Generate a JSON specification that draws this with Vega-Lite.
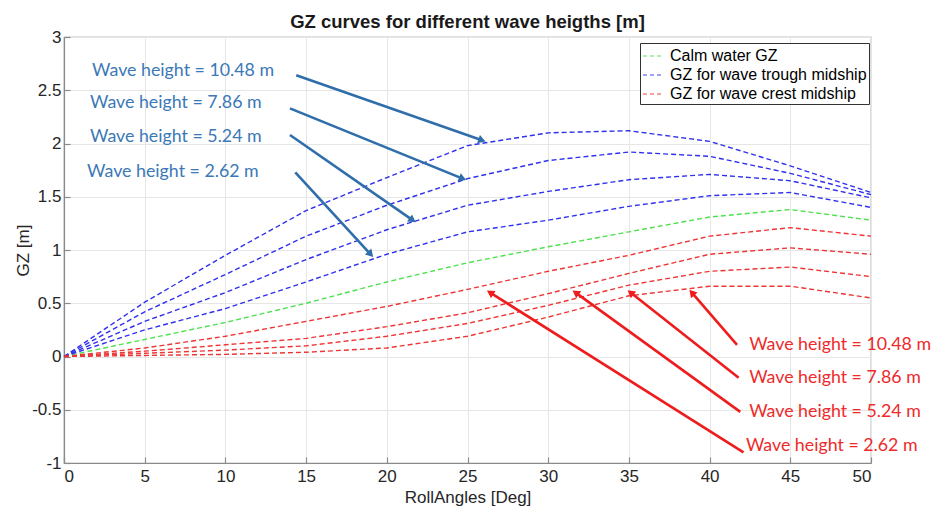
{
  "$schema": "https://vega.github.io/schema/vega-lite/v6.json",
  "width": 807,
  "height": 426,
  "autosize": {"type": "none"},
  "padding": {"left": 64, "top": 37, "right": 64, "bottom": 47},
  "background": "white",
  "title": {"text": "GZ curves for different wave heigths [m]", "font": "Liberation Sans", "fontSize": 18.5, "fontWeight": "bold", "color": "#1a1a1a", "anchor": "middle", "baseline": "bottom", "offset": 5, "dy": 27},
  "config": {
    "view": {"stroke": "#8a8a8a", "strokeWidth": 1.2},
    "axis": {
      "labelFont": "Liberation Sans", "labelFontSize": 17, "labelColor": "#262626",
      "titleFont": "Liberation Sans", "titleFontSize": 17, "titleColor": "#262626", "titleFontWeight": "normal",
      "grid": true, "gridColor": "#e6e6e6", "gridWidth": 1,
      "domainColor": "#8a8a8a", "domainWidth": 1.2, "ticks": true, "tickSize": -6, "tickColor": "#8a8a8a", "tickWidth": 1.2
    }
  },
  "datasets": {
    "curves": [
      {"angle": 0, "gz": 0, "type": "Calm water GZ", "wave": "calm"},
      {"angle": 5, "gz": 0.16, "type": "Calm water GZ", "wave": "calm"},
      {"angle": 10, "gz": 0.32, "type": "Calm water GZ", "wave": "calm"},
      {"angle": 15, "gz": 0.5, "type": "Calm water GZ", "wave": "calm"},
      {"angle": 20, "gz": 0.7, "type": "Calm water GZ", "wave": "calm"},
      {"angle": 25, "gz": 0.88, "type": "Calm water GZ", "wave": "calm"},
      {"angle": 30, "gz": 1.03, "type": "Calm water GZ", "wave": "calm"},
      {"angle": 35, "gz": 1.17, "type": "Calm water GZ", "wave": "calm"},
      {"angle": 40, "gz": 1.31, "type": "Calm water GZ", "wave": "calm"},
      {"angle": 45, "gz": 1.38, "type": "Calm water GZ", "wave": "calm"},
      {"angle": 50, "gz": 1.28, "type": "Calm water GZ", "wave": "calm"},

      {"angle": 0, "gz": 0, "type": "GZ for wave trough midship", "wave": "t2.62"},
      {"angle": 5, "gz": 0.25, "type": "GZ for wave trough midship", "wave": "t2.62"},
      {"angle": 10, "gz": 0.45, "type": "GZ for wave trough midship", "wave": "t2.62"},
      {"angle": 15, "gz": 0.7, "type": "GZ for wave trough midship", "wave": "t2.62"},
      {"angle": 20, "gz": 0.96, "type": "GZ for wave trough midship", "wave": "t2.62"},
      {"angle": 25, "gz": 1.17, "type": "GZ for wave trough midship", "wave": "t2.62"},
      {"angle": 30, "gz": 1.28, "type": "GZ for wave trough midship", "wave": "t2.62"},
      {"angle": 35, "gz": 1.41, "type": "GZ for wave trough midship", "wave": "t2.62"},
      {"angle": 40, "gz": 1.51, "type": "GZ for wave trough midship", "wave": "t2.62"},
      {"angle": 45, "gz": 1.54, "type": "GZ for wave trough midship", "wave": "t2.62"},
      {"angle": 50, "gz": 1.4, "type": "GZ for wave trough midship", "wave": "t2.62"},

      {"angle": 0, "gz": 0, "type": "GZ for wave trough midship", "wave": "t5.24"},
      {"angle": 5, "gz": 0.33, "type": "GZ for wave trough midship", "wave": "t5.24"},
      {"angle": 10, "gz": 0.6, "type": "GZ for wave trough midship", "wave": "t5.24"},
      {"angle": 15, "gz": 0.91, "type": "GZ for wave trough midship", "wave": "t5.24"},
      {"angle": 20, "gz": 1.19, "type": "GZ for wave trough midship", "wave": "t5.24"},
      {"angle": 25, "gz": 1.42, "type": "GZ for wave trough midship", "wave": "t5.24"},
      {"angle": 30, "gz": 1.55, "type": "GZ for wave trough midship", "wave": "t5.24"},
      {"angle": 35, "gz": 1.66, "type": "GZ for wave trough midship", "wave": "t5.24"},
      {"angle": 40, "gz": 1.71, "type": "GZ for wave trough midship", "wave": "t5.24"},
      {"angle": 45, "gz": 1.65, "type": "GZ for wave trough midship", "wave": "t5.24"},
      {"angle": 50, "gz": 1.49, "type": "GZ for wave trough midship", "wave": "t5.24"},

      {"angle": 0, "gz": 0, "type": "GZ for wave trough midship", "wave": "t7.86"},
      {"angle": 5, "gz": 0.42, "type": "GZ for wave trough midship", "wave": "t7.86"},
      {"angle": 10, "gz": 0.77, "type": "GZ for wave trough midship", "wave": "t7.86"},
      {"angle": 15, "gz": 1.13, "type": "GZ for wave trough midship", "wave": "t7.86"},
      {"angle": 20, "gz": 1.42, "type": "GZ for wave trough midship", "wave": "t7.86"},
      {"angle": 25, "gz": 1.67, "type": "GZ for wave trough midship", "wave": "t7.86"},
      {"angle": 30, "gz": 1.84, "type": "GZ for wave trough midship", "wave": "t7.86"},
      {"angle": 35, "gz": 1.92, "type": "GZ for wave trough midship", "wave": "t7.86"},
      {"angle": 40, "gz": 1.88, "type": "GZ for wave trough midship", "wave": "t7.86"},
      {"angle": 45, "gz": 1.72, "type": "GZ for wave trough midship", "wave": "t7.86"},
      {"angle": 50, "gz": 1.52, "type": "GZ for wave trough midship", "wave": "t7.86"},

      {"angle": 0, "gz": 0, "type": "GZ for wave trough midship", "wave": "t10.48"},
      {"angle": 5, "gz": 0.51, "type": "GZ for wave trough midship", "wave": "t10.48"},
      {"angle": 10, "gz": 0.95, "type": "GZ for wave trough midship", "wave": "t10.48"},
      {"angle": 15, "gz": 1.37, "type": "GZ for wave trough midship", "wave": "t10.48"},
      {"angle": 20, "gz": 1.68, "type": "GZ for wave trough midship", "wave": "t10.48"},
      {"angle": 25, "gz": 1.98, "type": "GZ for wave trough midship", "wave": "t10.48"},
      {"angle": 30, "gz": 2.1, "type": "GZ for wave trough midship", "wave": "t10.48"},
      {"angle": 35, "gz": 2.12, "type": "GZ for wave trough midship", "wave": "t10.48"},
      {"angle": 40, "gz": 2.02, "type": "GZ for wave trough midship", "wave": "t10.48"},
      {"angle": 45, "gz": 1.79, "type": "GZ for wave trough midship", "wave": "t10.48"},
      {"angle": 50, "gz": 1.54, "type": "GZ for wave trough midship", "wave": "t10.48"},

      {"angle": 0, "gz": 0, "type": "GZ for wave crest midship", "wave": "c2.62"},
      {"angle": 5, "gz": 0.08, "type": "GZ for wave crest midship", "wave": "c2.62"},
      {"angle": 10, "gz": 0.19, "type": "GZ for wave crest midship", "wave": "c2.62"},
      {"angle": 15, "gz": 0.33, "type": "GZ for wave crest midship", "wave": "c2.62"},
      {"angle": 20, "gz": 0.47, "type": "GZ for wave crest midship", "wave": "c2.62"},
      {"angle": 25, "gz": 0.63, "type": "GZ for wave crest midship", "wave": "c2.62"},
      {"angle": 30, "gz": 0.8, "type": "GZ for wave crest midship", "wave": "c2.62"},
      {"angle": 35, "gz": 0.95, "type": "GZ for wave crest midship", "wave": "c2.62"},
      {"angle": 40, "gz": 1.13, "type": "GZ for wave crest midship", "wave": "c2.62"},
      {"angle": 45, "gz": 1.21, "type": "GZ for wave crest midship", "wave": "c2.62"},
      {"angle": 50, "gz": 1.13, "type": "GZ for wave crest midship", "wave": "c2.62"},

      {"angle": 0, "gz": 0, "type": "GZ for wave crest midship", "wave": "c5.24"},
      {"angle": 5, "gz": 0.05, "type": "GZ for wave crest midship", "wave": "c5.24"},
      {"angle": 10, "gz": 0.11, "type": "GZ for wave crest midship", "wave": "c5.24"},
      {"angle": 15, "gz": 0.17, "type": "GZ for wave crest midship", "wave": "c5.24"},
      {"angle": 20, "gz": 0.28, "type": "GZ for wave crest midship", "wave": "c5.24"},
      {"angle": 25, "gz": 0.41, "type": "GZ for wave crest midship", "wave": "c5.24"},
      {"angle": 30, "gz": 0.59, "type": "GZ for wave crest midship", "wave": "c5.24"},
      {"angle": 35, "gz": 0.78, "type": "GZ for wave crest midship", "wave": "c5.24"},
      {"angle": 40, "gz": 0.96, "type": "GZ for wave crest midship", "wave": "c5.24"},
      {"angle": 45, "gz": 1.02, "type": "GZ for wave crest midship", "wave": "c5.24"},
      {"angle": 50, "gz": 0.96, "type": "GZ for wave crest midship", "wave": "c5.24"},

      {"angle": 0, "gz": 0, "type": "GZ for wave crest midship", "wave": "c7.86"},
      {"angle": 5, "gz": 0.03, "type": "GZ for wave crest midship", "wave": "c7.86"},
      {"angle": 10, "gz": 0.06, "type": "GZ for wave crest midship", "wave": "c7.86"},
      {"angle": 15, "gz": 0.1, "type": "GZ for wave crest midship", "wave": "c7.86"},
      {"angle": 20, "gz": 0.19, "type": "GZ for wave crest midship", "wave": "c7.86"},
      {"angle": 25, "gz": 0.31, "type": "GZ for wave crest midship", "wave": "c7.86"},
      {"angle": 30, "gz": 0.48, "type": "GZ for wave crest midship", "wave": "c7.86"},
      {"angle": 35, "gz": 0.67, "type": "GZ for wave crest midship", "wave": "c7.86"},
      {"angle": 40, "gz": 0.8, "type": "GZ for wave crest midship", "wave": "c7.86"},
      {"angle": 45, "gz": 0.84, "type": "GZ for wave crest midship", "wave": "c7.86"},
      {"angle": 50, "gz": 0.75, "type": "GZ for wave crest midship", "wave": "c7.86"},

      {"angle": 0, "gz": 0, "type": "GZ for wave crest midship", "wave": "c10.48"},
      {"angle": 5, "gz": 0.01, "type": "GZ for wave crest midship", "wave": "c10.48"},
      {"angle": 10, "gz": 0.02, "type": "GZ for wave crest midship", "wave": "c10.48"},
      {"angle": 15, "gz": 0.04, "type": "GZ for wave crest midship", "wave": "c10.48"},
      {"angle": 20, "gz": 0.08, "type": "GZ for wave crest midship", "wave": "c10.48"},
      {"angle": 25, "gz": 0.19, "type": "GZ for wave crest midship", "wave": "c10.48"},
      {"angle": 30, "gz": 0.37, "type": "GZ for wave crest midship", "wave": "c10.48"},
      {"angle": 35, "gz": 0.57, "type": "GZ for wave crest midship", "wave": "c10.48"},
      {"angle": 40, "gz": 0.66, "type": "GZ for wave crest midship", "wave": "c10.48"},
      {"angle": 45, "gz": 0.66, "type": "GZ for wave crest midship", "wave": "c10.48"},
      {"angle": 50, "gz": 0.55, "type": "GZ for wave crest midship", "wave": "c10.48"}
    ],
    "arrows": [
      {"group": "trough", "tx": 14.39, "ty": 2.64, "hx": 25.9, "hy": 2.03},
      {"group": "trough", "tx": 14.0, "ty": 2.33, "hx": 24.7, "hy": 1.67},
      {"group": "trough", "tx": 14.0, "ty": 2.08, "hx": 21.6, "hy": 1.28},
      {"group": "trough", "tx": 14.33, "ty": 1.73, "hx": 19.0, "hy": 0.96},
      {"group": "crest", "tx": 41.7, "ty": 0.11, "hx": 38.9, "hy": 0.6},
      {"group": "crest", "tx": 41.8, "ty": -0.2, "hx": 35.1, "hy": 0.6},
      {"group": "crest", "tx": 41.9, "ty": -0.52, "hx": 31.7, "hy": 0.6},
      {"group": "crest", "tx": 42.1, "ty": -0.9, "hx": 26.4, "hy": 0.6}
    ],
    "labels": [
      {"group": "trough", "x": 1.74, "y": 2.68, "text": "Wave height = 10.48 m"},
      {"group": "trough", "x": 1.61, "y": 2.38, "text": "Wave height = 7.86 m"},
      {"group": "trough", "x": 1.61, "y": 2.06, "text": "Wave height = 5.24 m"},
      {"group": "trough", "x": 1.43, "y": 1.73, "text": "Wave height = 2.62 m"},
      {"group": "crest", "x": 42.45, "y": 0.11, "text": "Wave height = 10.48 m"},
      {"group": "crest", "x": 42.45, "y": -0.2, "text": "Wave height = 7.86 m"},
      {"group": "crest", "x": 42.45, "y": -0.52, "text": "Wave height = 5.24 m"},
      {"group": "crest", "x": 42.25, "y": -0.84, "text": "Wave height = 2.62 m"}
    ]
  },
  "layer": [
    {
      "data": {"name": "curves"},
      "mark": {"type": "line", "strokeDash": [5, 3], "strokeWidth": 1.4},
      "encoding": {
        "x": {"field": "angle", "type": "quantitative", "scale": {"domain": [0, 50], "nice": false},
              "axis": {"title": "RollAngles [Deg]", "values": [0, 5, 10, 15, 20, 25, 30, 35, 40, 45, 50], "labelPadding": 11, "titlePadding": 5}},
        "y": {"field": "gz", "type": "quantitative", "scale": {"domain": [-1, 3], "nice": false, "zero": false},
              "axis": {"title": "GZ [m]", "values": [-1, -0.5, 0, 0.5, 1, 1.5, 2, 2.5, 3], "labelExpr": "'' + datum.value", "labelPadding": 9, "titlePadding": -1}},
        "color": {"field": "type", "type": "nominal",
                  "scale": {"domain": ["Calm water GZ", "GZ for wave trough midship", "GZ for wave crest midship"], "range": ["#4ee04e", "#3030ee", "#ee3535"]},
                  "legend": {"title": null, "orient": "none", "legendX": 576, "legendY": 6, "direction": "vertical",
                             "strokeColor": "#333333", "fillColor": "white", "padding": 2, "cornerRadius": 0,
                             "labelFont": "Liberation Sans", "labelFontSize": 16, "labelColor": "#000000", "labelLimit": 400,
                             "symbolType": "stroke", "symbolSize": 400, "symbolStrokeWidth": 1.3, "symbolDash": [4, 3], "symbolOpacity": 0.6,
                             "rowPadding": 0, "labelOffset": 6}},
        "detail": {"field": "wave"}
      }
    },
    {
      "data": {"name": "arrows"},
      "transform": [{"filter": "datum.group === 'trough'"}],
      "mark": {"type": "rule", "color": "#2f6eab", "strokeWidth": 2.6},
      "encoding": {
        "x": {"field": "tx", "type": "quantitative"},
        "y": {"field": "ty", "type": "quantitative"},
        "x2": {"field": "hx"},
        "y2": {"field": "hy"}
      }
    },
    {
      "data": {"name": "arrows"},
      "transform": [{"filter": "datum.group === 'crest'"}],
      "mark": {"type": "rule", "color": "#ee1c1c", "strokeWidth": 2.6},
      "encoding": {
        "x": {"field": "tx", "type": "quantitative"},
        "y": {"field": "ty", "type": "quantitative"},
        "x2": {"field": "hx"},
        "y2": {"field": "hy"}
      }
    },
    {
      "data": {"name": "arrows"},
      "transform": [{"calculate": "atan2((datum.hx - datum.tx) * 16.14, (datum.hy - datum.ty) * 106.5) * 180 / PI", "as": "ang"}],
      "mark": {"type": "point", "shape": "triangle-up", "filled": true, "opacity": 1, "size": 75},
      "encoding": {
        "x": {"field": "hx", "type": "quantitative"},
        "y": {"field": "hy", "type": "quantitative"},
        "angle": {"field": "ang", "type": "quantitative", "scale": null},
        "fill": {"condition": {"test": "datum.group === 'trough'", "value": "#2f6eab"}, "value": "#ee1c1c"}
      }
    },
    {
      "data": {"name": "labels"},
      "transform": [{"filter": "datum.group === 'trough'"}],
      "mark": {"type": "text", "align": "left", "baseline": "middle", "font": "Lato", "fontSize": 17.8, "color": "#3b78b6"},
      "encoding": {
        "x": {"field": "x", "type": "quantitative"},
        "y": {"field": "y", "type": "quantitative"},
        "text": {"field": "text"}
      }
    },
    {
      "data": {"name": "labels"},
      "transform": [{"filter": "datum.group === 'crest'"}],
      "mark": {"type": "text", "align": "left", "baseline": "middle", "font": "Lato", "fontSize": 17.8, "color": "#ee2a2a"},
      "encoding": {
        "x": {"field": "x", "type": "quantitative"},
        "y": {"field": "y", "type": "quantitative"},
        "text": {"field": "text"}
      }
    }
  ]
}
